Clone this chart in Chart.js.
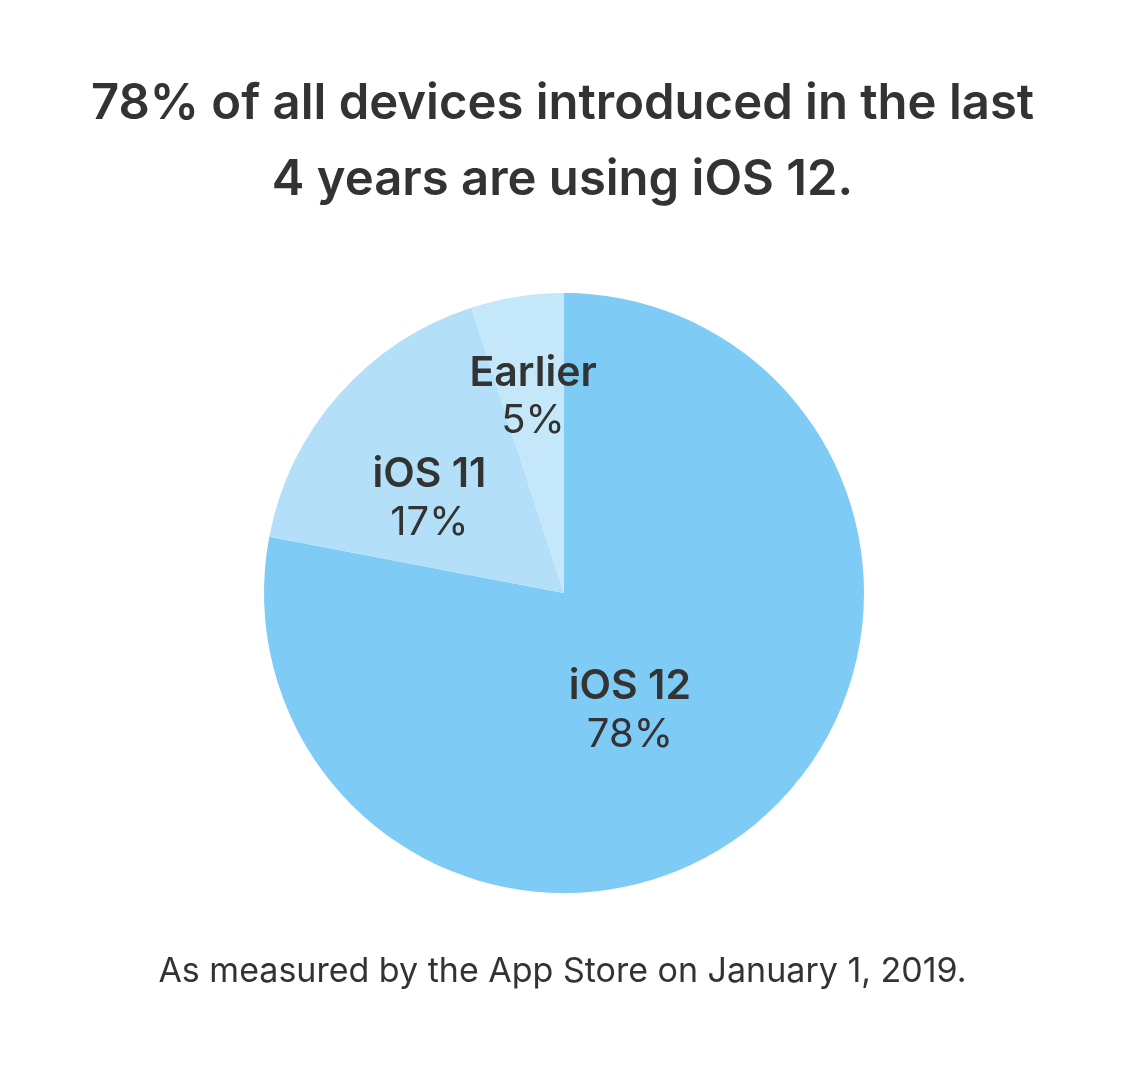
<!DOCTYPE html>
<html>
<head>
<meta charset="utf-8">
<script src="https://cdn.jsdelivr.net/npm/chart.js@4"></script>
<style>
  body { margin: 0; background: #fff; }
</style>
</head>
<body>
<canvas id="chart" width="1125" height="1075"></canvas>
<script>
// data
const versions = ["iOS 12", "iOS 11", "Earlier"];
const shares = [78, 17, 5];
const sliceColors = ["#7ecbf5", "#b3e0f8", "#c4e7fa"];
const titleLines = ["78% of all devices introduced in the last", "4 years are using iOS 12."];
const footNote = "As measured by the App Store on January 1, 2019.";

// label placement: fraction of radius and angle nudge (degrees) from slice middle
const labelRadius = [0.45, 0.547, 0.66];
const labelNudge = [10.4, -6.5, 0];

const sliceLabels = {
    id: 'sliceLabels',
    afterDatasetsDraw(chart) {
        let ctx = chart.ctx;
        let arcs = chart.getDatasetMeta(0).data;
        ctx.save();
        ctx.textAlign = 'center';
        ctx.textBaseline = 'middle';
        ctx.fillStyle = '#333333';
        for (let i = 0; i < arcs.length; i++) {
            let a = arcs[i];
            let mid = (a.startAngle + a.endAngle) / 2 + labelNudge[i] * Math.PI / 180;
            let r = a.outerRadius * labelRadius[i];
            let x = a.x + Math.cos(mid) * r;
            let y = a.y + Math.sin(mid) * r;
            ctx.font = '600 41px Inter';
            ctx.fillText(versions[i], x, y - 24);
            ctx.font = '400 40px Inter';
            ctx.fillText(shares[i] + '%', x, y + 24);
        }
        ctx.restore();
    }
};

// title and note drawn across the whole canvas (chart.js title would be squeezed by the padding)
const pageText = {
    id: 'pageText',
    afterDraw(chart) {
        let ctx = chart.ctx;
        let cx = chart.width / 2;
        ctx.save();
        ctx.textAlign = 'center';
        ctx.textBaseline = 'middle';
        ctx.fillStyle = '#333333';
        ctx.font = '600 49px Inter';
        ctx.fillText(titleLines[0], cx, 104);
        ctx.fillText(titleLines[1], cx, 180);
        ctx.font = '400 34px Inter';
        ctx.fillText(footNote, cx, 972);
        ctx.restore();
    }
};

let ctx = document.querySelector('#chart').getContext('2d');
let myChart = new Chart(ctx, {
    type: 'pie',
    data: {
        labels: versions,
        datasets: [{
            data: shares,
            backgroundColor: sliceColors,
            borderWidth: 0
        }]
    },
    options: {
        responsive: false,
        animation: false,
        layout: {
            padding: { left: 264, right: 261, top: 293, bottom: 182 }
        },
        plugins: {
            legend: { display: false },
            tooltip: { enabled: false }
        }
    },
    plugins: [sliceLabels, pageText]
});
</script>
</body>
</html>
